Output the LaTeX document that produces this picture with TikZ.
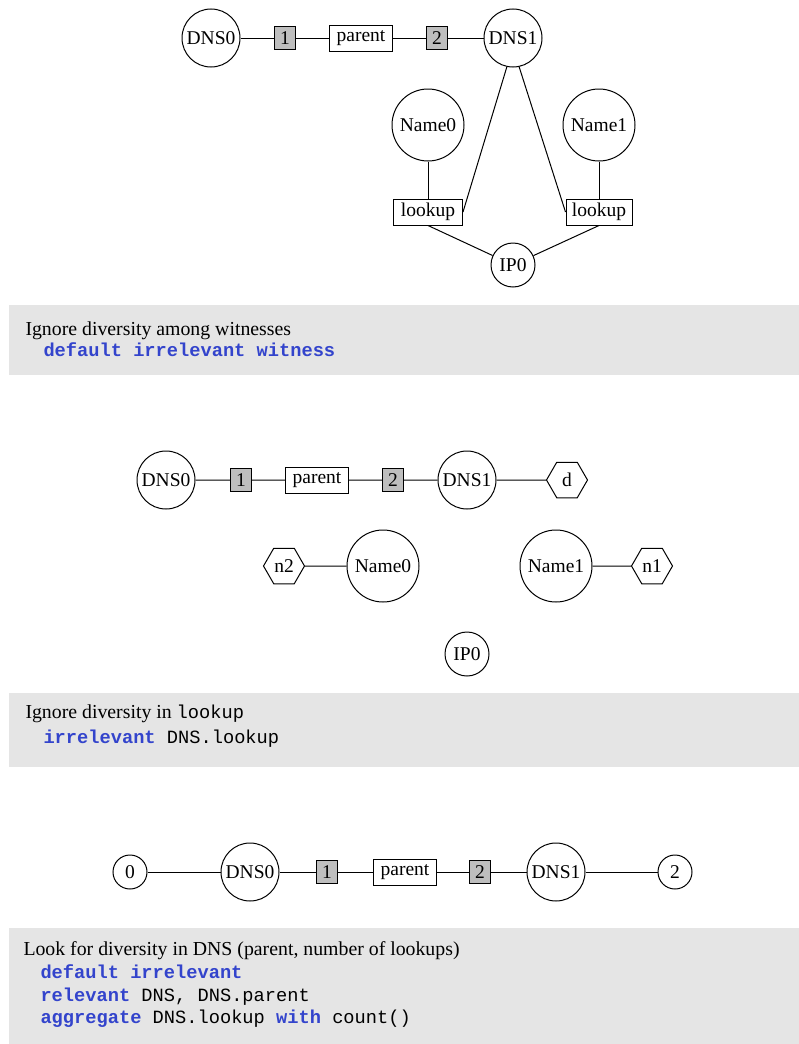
\documentclass[tikz,border=0pt]{standalone}
\usepackage{fontspec}
\setmainfont{Liberation Serif}
\setmonofont{Liberation Mono}
\usetikzlibrary{shapes.geometric}
\definecolor{panelgray}{RGB}{229,229,229}
\definecolor{kwblue}{RGB}{51,68,204}
\definecolor{boxgray}{RGB}{190,190,190}
\newcommand{\kw}[1]{\textcolor{kwblue}{\bfseries #1}}
\tikzset{
  every path/.style={line width=1pt},
  lbl/.style={font=\fontsize{19.5}{23}\selectfont},
  circ/.style={circle, draw, inner sep=0pt, lbl},
  bigcirc/.style={circ, minimum size=58pt},
  namecirc/.style={circ, minimum size=72pt},
  ipcirc/.style={circ, minimum size=44pt},
  numcirc/.style={circ, minimum size=34pt},
  fieldbox/.style={rectangle, draw, fill=white, inner sep=0pt, minimum height=26pt, lbl},
  portbox/.style={rectangle, draw, fill=boxgray, inner sep=0pt, minimum width=21pt, minimum height=23pt, lbl},
  hexa/.style={regular polygon, regular polygon sides=6, draw, inner sep=0pt, minimum size=41pt, lbl},
  panel/.style={fill=panelgray, draw=none},
  desc/.style={anchor=mid west, inner sep=0pt, font=\fontsize{19.8}{23}\selectfont},
  code/.style={anchor=mid west, inner sep=0pt, font=\ttfamily\fontsize{18.7}{22}\selectfont},
}
\begin{document}
\begin{tikzpicture}[x=1pt, y=-1pt]
\useasboundingbox (0,0) rectangle (799,1044);

% ---------- graph 1: all witnesses ----------
\node[bigcirc] (a0) at (211,38) {DNS0};
\node[portbox] (a1) at (285,38) {1};
\node[fieldbox, minimum width=63pt] (ap) at (361,38) {parent};
\node[portbox] (a2) at (437,38) {2};
\node[bigcirc] (a3) at (513,38) {DNS1};
\node[namecirc] (an0) at (428,125) {Name0};
\node[namecirc] (an1) at (599,125) {Name1};
\node[fieldbox, minimum width=69pt] (al0) at (428,212) {lookup};
\node[fieldbox, minimum width=66pt] (al1) at (599,212) {lookup};
\node[ipcirc] (aip) at (513,265) {IP0};
\draw (a0) -- (a1) -- (ap) -- (a2) -- (a3);
\draw (a3.258) -- (al0.east);
\draw (a3.282) -- (al1.west);
\draw (an0) -- (al0);
\draw (an1) -- (al1);
\draw (al0.south) -- (aip);
\draw (al1.south) -- (aip);

\fill[panel] (9,305) rectangle (799,375);
\node[desc] (t1) at (25,333) {Ignore diversity among witnesses};
\node[code] (c1) at (43,354) {\kw{default irrelevant witness}};

% ---------- graph 2: lookup ignored ----------
\node[bigcirc] (b0) at (166,480) {DNS0};
\node[portbox] (b1) at (241,480) {1};
\node[fieldbox, minimum width=63pt] (bp) at (317,480) {parent};
\node[portbox] (b2) at (393,480) {2};
\node[bigcirc] (b3) at (467,480) {DNS1};
\node[hexa] (bd) at (567,480) {d};
\node[hexa] (bh2) at (284,566) {n2};
\node[namecirc] (bn0) at (383,566) {Name0};
\node[namecirc] (bn1) at (556,566) {Name1};
\node[hexa] (bh1) at (652,566) {n1};
\node[ipcirc] (bip) at (467,654) {IP0};
\draw (b0) -- (b1) -- (bp) -- (b2) -- (b3) -- (bd);
\draw (bh2) -- (bn0);
\draw (bn1) -- (bh1);

\fill[panel] (9,693) rectangle (799,767);
\node[desc] (t2) at (25,716) {Ignore diversity in \texttt{\fontsize{18.7}{22}\selectfont lookup}};
\node[code] (c2) at (43,741) {\kw{irrelevant} DNS.lookup};

% ---------- graph 3: aggregated lookups ----------
\node[numcirc] (e0) at (130,872) {0};
\node[bigcirc] (e1) at (250,872) {DNS0};
\node[portbox] (e2) at (327,872) {1};
\node[fieldbox, minimum width=63pt] (ep) at (405,872) {parent};
\node[portbox] (e3) at (480,872) {2};
\node[bigcirc] (e4) at (556,872) {DNS1};
\node[numcirc] (e5) at (675,872) {2};
\draw (e0) -- (e1) -- (e2) -- (ep) -- (e3) -- (e4) -- (e5);

\fill[panel] (9,928) rectangle (799,1044);
\node[desc] (t3) at (23,953) {Look for diversity in DNS (parent, number of lookups)};
\node[code] (c3) at (40,976) {\kw{default irrelevant}};
\node[code] (c4) at (40,999) {\kw{relevant} DNS, DNS.parent};
\node[code] (c5) at (40,1021) {\kw{aggregate} DNS.lookup \kw{with} count()};
\end{tikzpicture}
\end{document}
